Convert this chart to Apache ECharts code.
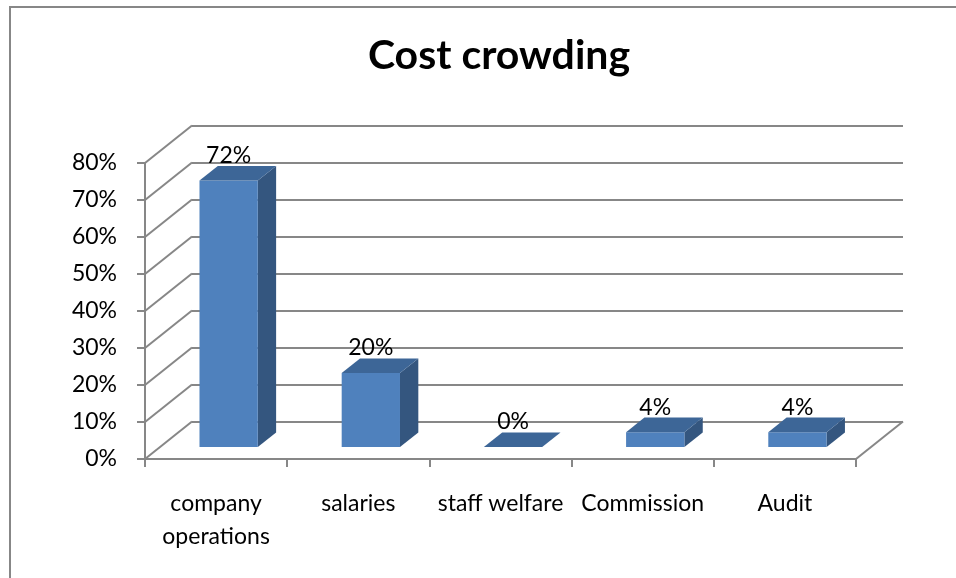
<!DOCTYPE html>
<html>
<head>
<meta charset="utf-8">
<script src="https://cdn.jsdelivr.net/npm/echarts@6/dist/echarts.min.js"></script>
<style>
html,body{margin:0;padding:0;background:#fff;}
#chart{width:956px;height:578px;}
</style>
</head>
<body>
<div id="chart"></div>
<script>
// ---- data ----
var titleText = 'Cost crowding';
var categories = ['company\noperations', 'salaries', 'staff welfare', 'Commission', 'Audit'];
var values = [0.72, 0.20, 0.00, 0.04, 0.04];
var yTicks = [0, 0.1, 0.2, 0.3, 0.4, 0.5, 0.6, 0.7, 0.8];

// ---- style / geometry constants ----
var FONT = 'Lato';
var GRAY = '#878787';
var DX = 47, DY = -37.5;          // depth offset of the back wall
var FRONT_DEPTH = 0.32, BAR_DEPTH = 0.39, BAR_W = 0.41, BAR_SHIFT = -2.5;
var C_FRONT = '#4F81BD', C_SIDE = '#34567F', C_TOP = '#3D6697';
var G = {left: 145, right: 100, top: 163, bottom: 119};

var chart = echarts.init(document.getElementById('chart'), null, {renderer: 'canvas'});

function pct(v){ return Math.round(v * 100) + '%'; }

var option = {
  animation: false,
  backgroundColor: '#fff',
  title: {
    text: titleText,
    left: 494, top: 30, textAlign: 'center',
    textStyle: {fontFamily: FONT, fontWeight: 'bold', fontSize: 41, color: '#000'}
  },
  graphic: [{
    type: 'polyline', silent: true,
    shape: {points: [[10, 578], [10, 7], [956, 7]]},
    style: {stroke: GRAY, lineWidth: 2, fill: null}
  }],
  grid: [
    {left: G.left, right: G.right, top: G.top, bottom: G.bottom},
    {left: G.left + DX, right: G.right - DX, top: G.top + DY, bottom: G.bottom - DY}
  ],
  xAxis: [
    {
      type: 'category', gridIndex: 0, data: categories,
      axisLine: {show: true, lineStyle: {color: GRAY, width: 2}},
      axisTick: {show: true, length: 8, lineStyle: {color: GRAY, width: 2}},
      axisLabel: {
        margin: 28, color: '#000', fontFamily: FONT, fontSize: 23,
        lineHeight: 33, verticalAlign: 'top', interval: 0
      }
    },
    {
      type: 'category', gridIndex: 1, data: categories,
      show: false
    }
  ],
  yAxis: [
    {
      type: 'value', gridIndex: 0, min: 0, max: 0.8, interval: 0.1,
      axisLine: {show: true, lineStyle: {color: GRAY, width: 2}},
      axisTick: {show: true, length: 8, lineStyle: {color: GRAY, width: 2}},
      splitLine: {show: false},
      axisLabel: {
        margin: 28, color: '#000', fontFamily: FONT, fontSize: 23,
        formatter: function(v){ return pct(v); }
      }
    },
    {
      type: 'value', gridIndex: 1, min: 0, max: 0.8, interval: 0.1,
      axisLine: {show: false}, axisTick: {show: false}, axisLabel: {show: false},
      splitLine: {show: true, lineStyle: {color: GRAY, width: 2}}
    }
  ],
  series: [
    {
      // left wall diagonals and floor diagonals
      type: 'custom', xAxisIndex: 0, yAxisIndex: 0, silent: true, z: 1,
      data: yTicks.map(function(v){ return [0, v]; }),
      renderItem: function(params, api){
        var cs = params.coordSys;
        var y = api.coord([0, api.value(1)])[1];
        var x = cs.x;
        var children = [{
          type: 'line',
          shape: {x1: x, y1: y, x2: x + DX, y2: y + DY},
          style: {stroke: GRAY, lineWidth: 2}
        }];
        if (api.value(1) === 0) {
          var xr = cs.x + cs.width;
          children.push({
            type: 'line',
            shape: {x1: xr, y1: y, x2: xr + DX, y2: y + DY},
            style: {stroke: GRAY, lineWidth: 2}
          });
        }
        return {type: 'group', children: children};
      }
    },
    {
      // 3D bars
      type: 'custom', xAxisIndex: 0, yAxisIndex: 0, z: 5,
      data: values.map(function(v, i){ return [i, v]; }),
      renderItem: function(params, api){
        var i = api.value(0), v = api.value(1);
        var top = api.coord([i, v]);
        var base = api.coord([i, 0]);
        var band = api.size([1, 0])[0];
        var w = band * BAR_W;
        var fx = DX * FRONT_DEPTH, fy = DY * FRONT_DEPTH;
        var dx = DX * BAR_DEPTH, dy = DY * BAR_DEPTH;
        var x0 = top[0] - w / 2 + fx + BAR_SHIFT;
        var yt = top[1] + fy;
        var yb = base[1] + fy;
        return {
          type: 'group',
          children: [
            {
              type: 'polygon',
              shape: {points: [[x0 + w, yt], [x0 + w + dx, yt + dy], [x0 + w + dx, yb + dy], [x0 + w, yb]]},
              style: {fill: C_SIDE}
            },
            {
              type: 'rect',
              shape: {x: x0, y: yt, width: w, height: yb - yt},
              style: {fill: C_FRONT}
            },
            {
              type: 'polygon',
              shape: {points: [[x0, yt], [x0 + dx, yt + dy], [x0 + w + dx, yt + dy], [x0 + w, yt]]},
              style: {fill: C_TOP}
            },
            {
              type: 'text',
              style: {
                text: pct(v), x: x0 + w / 2, y: yt - 25,
                align: 'center', verticalAlign: 'middle',
                fill: '#000', font: '23px ' + FONT
              }
            }
          ]
        };
      }
    }
  ]
};
chart.setOption(option);
</script>
</body>
</html>
